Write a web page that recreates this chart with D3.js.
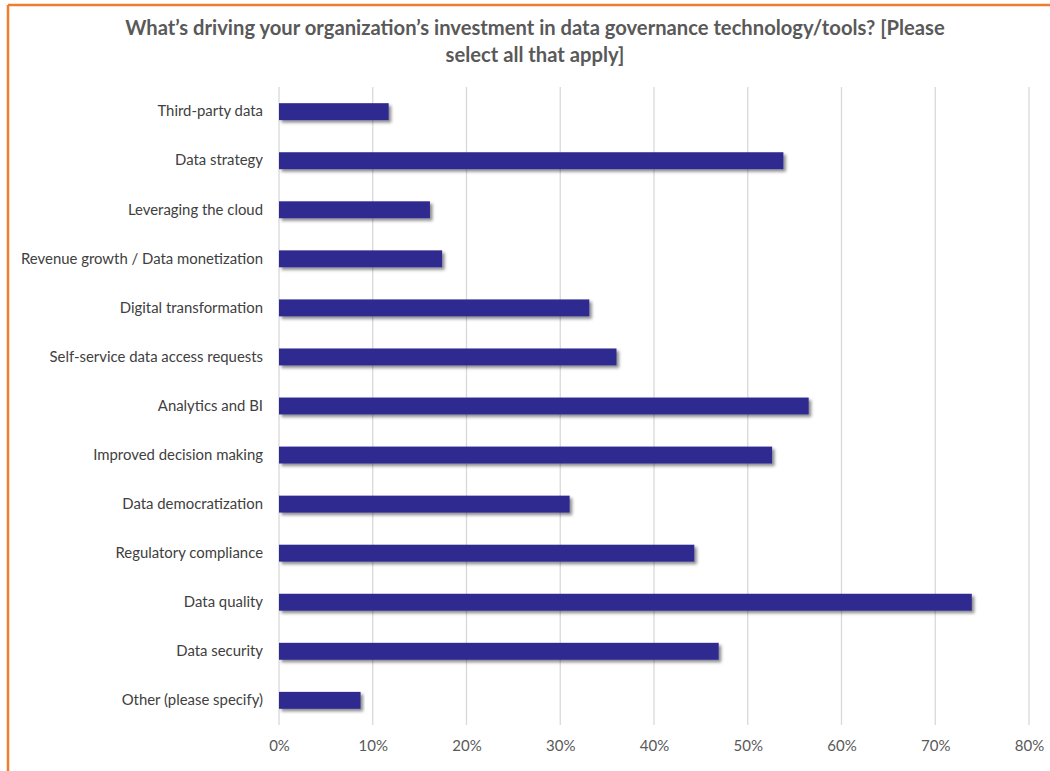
<!DOCTYPE html>
<html>
<head>
<meta charset="utf-8">
<script src="https://cdn.jsdelivr.net/npm/d3@7"></script>
<style>
  html, body { margin: 0; padding: 0; background: #fff; }
  svg { display: block; }
</style>
</head>
<body>
<script>
// Survey answers, top to bottom
const categories = [
  "Third-party data",
  "Data strategy",
  "Leveraging the cloud",
  "Revenue growth / Data monetization",
  "Digital transformation",
  "Self-service data access requests",
  "Analytics and BI",
  "Improved decision making",
  "Data democratization",
  "Regulatory compliance",
  "Data quality",
  "Data security",
  "Other (please specify)"
];
// Share of respondents (%)
const values = [11.7, 53.8, 16.1, 17.4, 33.1, 36.0, 56.5, 52.6, 31.0, 44.3, 73.9, 46.9, 8.7];
const tickValues = [0, 10, 20, 30, 40, 50, 60, 70, 80];
const titleLines = [
  "What\u2019s driving your organization\u2019s investment in data governance technology/tools? [Please",
  "select all that apply]"
];

const W = 1050, H = 771;
const margin = { left: 279, right: 21, top: 87, bottom: 46 };
const FONT = "Lato, 'Open Sans', sans-serif";

const svg = d3.select("body").append("svg").attr("width", W).attr("height", H);

const defs = svg.append("defs");
const f = defs.append("filter").attr("id", "barShadow")
  .attr("x", "-5%").attr("y", "-40%").attr("width", "110%").attr("height", "200%");
f.append("feDropShadow").attr("dx", 2.5).attr("dy", 2.5).attr("stdDeviation", 1.6)
  .attr("flood-color", "#000").attr("flood-opacity", 0.45);

// Frame
svg.append("line").attr("x1", 8).attr("x2", W).attr("y1", 5).attr("y2", 5)
  .attr("stroke", "#F07D2E").attr("stroke-width", 2.5);
svg.append("line").attr("x1", 8).attr("x2", 8).attr("y1", 5).attr("y2", H)
  .attr("stroke", "#F07D2E").attr("stroke-width", 2.5);

// Title
svg.append("g").selectAll("text").data(titleLines).join("text")
  .attr("x", 535).attr("y", (d, i) => 35 + i * 27)
  .attr("text-anchor", "middle")
  .attr("font-family", FONT)
  .attr("font-weight", "bold").attr("font-size", 20.2)
  .attr("fill", "#595959")
  .text(d => d);

const x = d3.scaleLinear().domain([0, 80]).range([margin.left, W - margin.right]);
const y = d3.scaleBand().domain(categories).range([margin.top, H - margin.bottom])
  .paddingInner(0.655).paddingOuter(0.33);

// Vertical gridlines
svg.append("g").selectAll("line").data(tickValues).join("line")
  .attr("x1", d => x(d)).attr("x2", d => x(d))
  .attr("y1", margin.top).attr("y2", H - margin.bottom)
  .attr("stroke", "#D9D9D9").attr("stroke-width", 1.3);

// X axis labels
const xAxis = d3.axisBottom(x).tickValues(tickValues).tickFormat(d => d + "%").tickSize(0).tickPadding(15);
const gx = svg.append("g").attr("transform", `translate(0,${H - margin.bottom})`).call(xAxis);
gx.select(".domain").remove();
gx.selectAll("text").attr("font-family", FONT)
  .attr("font-size", 15).attr("fill", "#595959");

// Y axis labels
const yAxis = d3.axisLeft(y).tickSize(0).tickPadding(16);
const gy = svg.append("g").attr("transform", `translate(${margin.left},0)`).call(yAxis);
gy.select(".domain").remove();
gy.selectAll("text").attr("font-family", FONT)
  .attr("font-size", 14.9).attr("fill", "#404040");

// Bars
svg.append("g").selectAll("rect").data(values).join("rect")
  .attr("x", x(0)).attr("y", (d, i) => y(categories[i]))
  .attr("width", d => x(d) - x(0)).attr("height", y.bandwidth())
  .attr("fill", "#2F2A8F")
  .attr("filter", "url(#barShadow)");
</script>
</body>
</html>
